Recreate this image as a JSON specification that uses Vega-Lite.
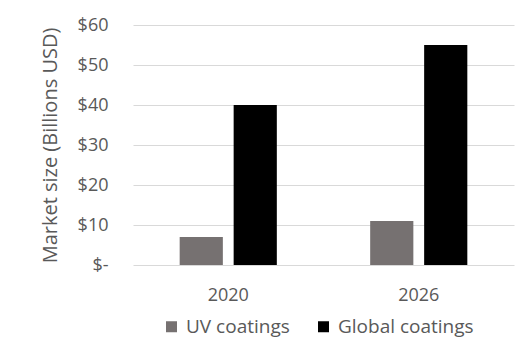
{
  "$schema": "https://vega.github.io/schema/vega-lite/v6.json",
  "width": 381,
  "height": 240,
  "autosize": {"type": "none"},
  "padding": {"left": 133, "top": 25, "right": 4, "bottom": 80},
  "background": "white",
  "data": {
    "values": [
      {"year": "2020", "type": "UV coatings", "value": 7},
      {"year": "2020", "type": "Global coatings", "value": 40},
      {"year": "2026", "type": "UV coatings", "value": 11},
      {"year": "2026", "type": "Global coatings", "value": 55}
    ]
  },
  "config": {
    "font": "Open Sans",
    "view": {"stroke": null}
  },
  "mark": {"type": "bar"},
  "encoding": {
    "x": {
      "field": "year",
      "type": "nominal",
      "scale": {"paddingInner": 0.49, "paddingOuter": 0.245},
      "axis": {
        "title": null,
        "labelAngle": 0,
        "labelFontSize": 18,
        "labelColor": "#595959",
        "labelPadding": 21,
        "ticks": false,
        "domain": false
      }
    },
    "xOffset": {
      "field": "type",
      "type": "nominal",
      "sort": ["UV coatings", "Global coatings"],
      "scale": {"paddingInner": 0.2}
    },
    "y": {
      "field": "value",
      "type": "quantitative",
      "scale": {"domain": [0, 60]},
      "axis": {
        "title": "Market size (Billions USD)",
        "titleFontSize": 20,
        "titleFontWeight": "normal",
        "titleColor": "#595959",
        "titleX": -83,
        "titleY": 120,
        "titleAngle": -90,
        "titleAlign": "center",
        "titleBaseline": "middle",
        "values": [0, 10, 20, 30, 40, 50, 60],
        "labelExpr": "datum.value == 0 ? '$-\u2007' : '$' + datum.value",
        "labelFontSize": 18,
        "labelColor": "#595959",
        "labelPadding": 25,
        "ticks": false,
        "domain": false,
        "gridColor": "#d9d9d9",
        "gridWidth": 1
      }
    },
    "color": {
      "field": "type",
      "type": "nominal",
      "sort": ["UV coatings", "Global coatings"],
      "scale": {"domain": ["UV coatings", "Global coatings"], "range": ["#767171", "#000000"]},
      "legend": {
        "title": null,
        "orient": "none",
        "direction": "horizontal",
        "legendX": 29,
        "legendY": 292,
        "symbolType": "square",
        "symbolSize": 121,
        "symbolStrokeWidth": 0,
        "labelFontSize": 19,
        "labelColor": "#595959",
        "labelOffset": 5,
        "columnPadding": 24
      }
    }
  }
}
